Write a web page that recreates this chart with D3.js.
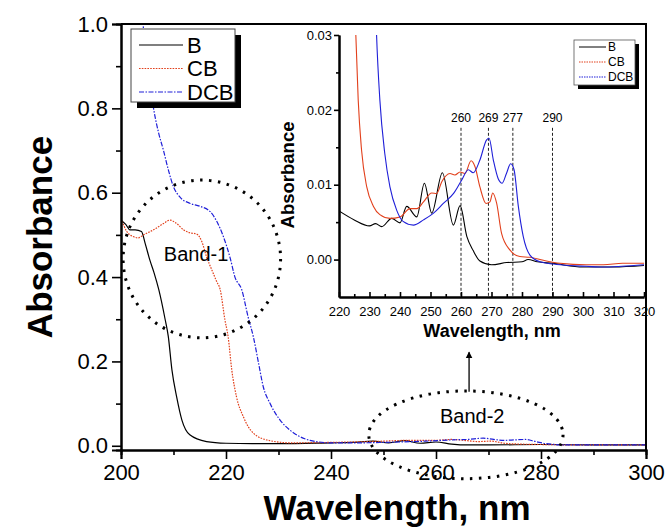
<!DOCTYPE html>
<html>
<head>
<meta charset="utf-8">
<script src="https://cdn.jsdelivr.net/npm/d3@7"></script>
<style>
  body { margin: 0; background: #fff; }
  text { font-family: "Liberation Sans", Arial, sans-serif; }
</style>
</head>
<body>
<script>
// main spectrum, 200-300 nm
const wlB = [200, 200.9, 201.7, 202.7, 203.9, 204.6, 205.5, 206.3, 207.2, 208.4, 209.0, 209.7, 210.6, 211.6, 213.1, 216.3, 220, 225, 230, 240, 244, 248, 251, 254, 257, 260, 263, 266, 270, 280, 290, 300];
const absB = [0.535, 0.525, 0.512, 0.512, 0.508, 0.48, 0.44, 0.41, 0.37, 0.30, 0.26, 0.18, 0.116, 0.061, 0.026, 0.010, 0.006, 0.005, 0.005, 0.007, 0.008, 0.011, 0.007, 0.012, 0.006, 0.009, 0.004, 0.002, 0.002, 0.003, 0.002, 0.002];

const wlCB = [200, 201.1, 202.3, 203.3, 204.3, 206.2, 208.1, 209.3, 210.6, 211.9, 213.1, 214.4, 215.4, 216.3, 217.3, 218.2, 218.9, 219.8, 220.4, 221.1, 222.0, 223.3, 225.2, 228.4, 232.2, 240, 250, 255, 260, 263, 266, 268, 270.5, 273, 276, 280, 290, 300];
const absCB = [0.539, 0.508, 0.496, 0.493, 0.50, 0.512, 0.527, 0.535, 0.527, 0.512, 0.505, 0.502, 0.484, 0.448, 0.417, 0.39, 0.37, 0.298, 0.259, 0.18, 0.116, 0.069, 0.03, 0.012, 0.007, 0.008, 0.011, 0.013, 0.013, 0.015, 0.012, 0.010, 0.011, 0.006, 0.004, 0.003, 0.002, 0.002];

const wlDCB = [203.6, 204.2, 205.2, 206.2, 207.2, 208.1, 209.0, 210.0, 211.2, 213.1, 215.0, 217.0, 218.2, 219.5, 220.8, 221.7, 223.0, 224.2, 225.2, 226.2, 227.1, 228.4, 230.3, 232.2, 234, 236, 240, 245, 250, 258, 263, 266, 269, 271, 273, 275, 277, 279, 281, 285, 290, 300];
const absDCB = [1.1, 1.0, 0.89, 0.80, 0.74, 0.70, 0.655, 0.614, 0.59, 0.575, 0.568, 0.555, 0.533, 0.496, 0.445, 0.40, 0.37, 0.306, 0.259, 0.196, 0.14, 0.10, 0.061, 0.037, 0.022, 0.013, 0.007, 0.007, 0.008, 0.011, 0.014, 0.015, 0.018, 0.015, 0.013, 0.014, 0.015, 0.010, 0.005, 0.002, 0.002, 0.002];

// inset, 220-320 nm
const inWlB = [220, 225, 230, 232, 234, 237.3, 240, 242.2, 245.5, 248, 250.4, 253.9, 257.5, 259.7, 261.9, 264, 266.2, 270, 275, 280, 282, 285, 290, 300, 310, 320];
const inAbsB = [0.0065, 0.0053, 0.0045, 0.0048, 0.0044, 0.0055, 0.0049, 0.0071, 0.0057, 0.0102, 0.0062, 0.0116, 0.0046, 0.0072, 0.0031, 0.0012, -0.0002, -0.0007, -0.0004, -0.0003, 0.0000, -0.0003, -0.0005, -0.001, -0.001, -0.0008];

const inWlCB = [225.2, 225.5, 226.3, 227.4, 229.1, 231.3, 233.4, 236.7, 240, 243.3, 245.5, 247.7, 250.4, 252, 253.7, 256.4, 258, 259.7, 261.3, 263.3, 264.6, 266.2, 268.2, 269.5, 270.4, 271.7, 273.3, 276, 279.3, 282.6, 287, 292.5, 301, 306.7, 313, 320];
const inAbsCB = [0.034, 0.0302, 0.0213, 0.0146, 0.0097, 0.0071, 0.006, 0.0055, 0.0057, 0.0068, 0.0068, 0.0077, 0.0089, 0.0088, 0.0104, 0.0115, 0.0113, 0.0117, 0.0115, 0.0132, 0.0124, 0.0097, 0.0075, 0.0077, 0.0089, 0.0075, 0.0035, 0.0013, 0.0004, 0.0003, -0.0001, -0.0005, -0.0007, -0.0007, -0.0005, -0.0005];

const inWlDCB = [232, 232.3, 233.4, 235, 236.7, 238.9, 241, 244.4, 247.7, 251, 254.2, 257.5, 260.2, 262.4, 264, 266.2, 268.4, 269.2, 270.6, 272.2, 273.5, 274.9, 276.3, 277.4, 278.8, 280.4, 282.6, 285.9, 290.3, 295.7, 301, 306.7, 312.7, 320];
const inAbsDCB = [0.034, 0.0302, 0.0213, 0.0142, 0.0097, 0.0066, 0.0051, 0.0046, 0.0053, 0.0062, 0.0075, 0.0088, 0.0106, 0.012, 0.0116, 0.0133, 0.016, 0.0162, 0.0133, 0.0108, 0.0102, 0.0115, 0.0128, 0.012, 0.0071, 0.0031, 0.0006, -0.0003, -0.0006, -0.0008, -0.0009, -0.001, -0.0009, -0.0007];

const markers = [260, 269, 277, 290];
const seriesNames = ['B', 'CB', 'DCB'];

const mainXTicks = [200, 220, 240, 260, 280, 300];
const mainYTicks = [0.0, 0.2, 0.4, 0.6, 0.8, 1.0];
const insetXTicks = [220, 230, 240, 250, 260, 270, 280, 290, 300, 310, 320];
const insetYTicks = [0.00, 0.01, 0.02, 0.03];

const width = 666;
const height = 528;
const colors = ['#000000', '#e2401c', '#1f1fd8'];
const dashes = [null, '1.6,1.2', '5,1.5,1.5,1.5'];

const svg = d3.select('body').append('svg')
  .attr('width', width)
  .attr('height', height);

svg.append('rect').attr('width', width).attr('height', height).attr('fill', '#fff');

// ---------- main plot ----------
const x = d3.scaleLinear().domain([200, 300]).range([121, 646]);
const y = d3.scaleLinear().domain([-0.01, 1.0]).range([450, 24]);

svg.append('clipPath').attr('id', 'clipMain')
  .append('rect')
  .attr('x', x.range()[0]).attr('y', y.range()[1])
  .attr('width', x.range()[1] - x.range()[0])
  .attr('height', y.range()[0] - y.range()[1]);

const mainSets = [[wlB, absB], [wlCB, absCB], [wlDCB, absDCB]];
const mainLine = d3.line().x(d => x(d[0])).y(d => y(d[1])).curve(d3.curveMonotoneX);

mainSets.forEach((s, i) => {
  svg.append('path')
    .datum(d3.zip(s[0], s[1]))
    .attr('clip-path', 'url(#clipMain)')
    .attr('d', mainLine)
    .attr('fill', 'none')
    .attr('stroke', colors[i])
    .attr('stroke-width', 1.2)
    .attr('stroke-dasharray', dashes[i]);
});

function styleAxis(g, size) {
  g.select('.domain').attr('stroke', '#000').attr('stroke-width', 2);
  g.selectAll('.tick line').attr('stroke', '#000').attr('stroke-width', 1.6);
  g.selectAll('.tick text').attr('font-size', size).attr('fill', '#000')
    .attr('font-family', '"Liberation Sans", Arial, sans-serif');
}

const xMinor = d3.axisBottom(x).tickValues([210, 230, 250, 270, 290]).tickSize(5).tickFormat('');
svg.append('g').attr('transform', `translate(0, ${y.range()[0]})`).call(xMinor).call(g => styleAxis(g, 22));
const xAxis = d3.axisBottom(x).tickValues(mainXTicks).tickSize(9).tickPadding(5).tickFormat(d3.format('d'));
svg.append('g').attr('transform', `translate(0, ${y.range()[0]})`).call(xAxis).call(g => styleAxis(g, 22));

const yMinor = d3.axisLeft(y).tickValues([0.1, 0.3, 0.5, 0.7, 0.9]).tickSize(5).tickFormat('');
svg.append('g').attr('transform', `translate(${x.range()[0]}, 0)`).call(yMinor).call(g => styleAxis(g, 22));
const yAxis = d3.axisLeft(y).tickValues(mainYTicks).tickSize(9).tickPadding(4).tickFormat(d3.format('.1f'));
svg.append('g').attr('transform', `translate(${x.range()[0]}, 0)`).call(yAxis).call(g => styleAxis(g, 22));

// top and right frame
svg.append('path')
  .attr('d', `M${x.range()[0]},${y.range()[1]}H${x.range()[1]}V${y.range()[0]}`)
  .attr('fill', 'none').attr('stroke', '#000').attr('stroke-width', 2);

svg.append('text')
  .text('Wavelength, nm')
  .attr('x', 397).attr('y', 520)
  .attr('text-anchor', 'middle')
  .attr('font-size', 35).attr('font-weight', 'bold');

svg.append('text')
  .text('Absorbance')
  .attr('transform', 'translate(52, 237) rotate(-90)')
  .attr('text-anchor', 'middle')
  .attr('font-size', 35).attr('font-weight', 'bold');

// main legend
const leg = svg.append('g');
leg.append('rect').attr('x', 137).attr('y', 35).attr('width', 104).attr('height', 73).attr('fill', '#000');
leg.append('rect').attr('x', 131).attr('y', 29).attr('width', 104).attr('height', 73)
  .attr('fill', '#fff').attr('stroke', '#444').attr('stroke-width', 1);
seriesNames.forEach((name, i) => {
  const ly = 45 + i * 23.5;
  leg.append('line').attr('x1', 139).attr('x2', 183).attr('y1', ly).attr('y2', ly)
    .attr('stroke', colors[i]).attr('stroke-width', 1.2).attr('stroke-dasharray', dashes[i]);
  leg.append('text').text(name).attr('x', 187).attr('y', ly)
    .attr('dy', '0.36em').attr('font-size', 22);
});

// band annotations
const dotStyle = sel => sel.attr('fill', 'none').attr('stroke', '#000')
  .attr('stroke-width', 3).attr('stroke-dasharray', '2.5,6.5');

svg.append('ellipse')
  .attr('cx', x(215.4)).attr('cy', y(0.443))
  .attr('rx', x(230.4) - x(215.4)).attr('ry', y(0.443) - y(0.63))
  .call(dotStyle);
svg.append('text').text('Band-1')
  .attr('x', x(214.3)).attr('y', y(0.455)).attr('dy', '0.36em')
  .attr('text-anchor', 'middle').attr('font-size', 20);

svg.append('ellipse')
  .attr('cx', x(265.7)).attr('cy', y(0.026))
  .attr('rx', x(284.2) - x(265.7)).attr('ry', y(0.026) - y(0.13))
  .call(dotStyle);
svg.append('text').text('Band-2')
  .attr('x', x(266.9)).attr('y', y(0.071)).attr('dy', '0.36em')
  .attr('text-anchor', 'middle').attr('font-size', 20);

svg.append('defs').append('marker')
  .attr('id', 'arrow').attr('viewBox', '0 0 10 10')
  .attr('refX', 9).attr('refY', 5)
  .attr('markerWidth', 7).attr('markerHeight', 9).attr('markerUnits', 'userSpaceOnUse')
  .attr('orient', 'auto')
  .append('path').attr('d', 'M0,0L10,5L0,10z').attr('fill', '#000');
svg.append('line')
  .attr('x1', x(266.3)).attr('x2', x(266.3))
  .attr('y1', y(0.128)).attr('y2', y(0.222))
  .attr('stroke', '#000').attr('stroke-width', 1.3)
  .attr('marker-end', 'url(#arrow)');

// ---------- inset ----------
const ix = d3.scaleLinear().domain([220, 320]).range([339, 644]);
const iy = d3.scaleLinear().domain([-0.005, 0.03]).range([297, 35]);

svg.append('clipPath').attr('id', 'clipInset')
  .append('rect')
  .attr('x', ix.range()[0]).attr('y', iy.range()[1])
  .attr('width', ix.range()[1] - ix.range()[0])
  .attr('height', iy.range()[0] - iy.range()[1]);

// marker lines
markers.forEach((m) => {
  svg.append('line')
    .attr('x1', ix(m)).attr('x2', ix(m))
    .attr('y1', iy(0.0176)).attr('y2', iy.range()[0])
    .attr('stroke', '#222').attr('stroke-width', 1).attr('stroke-dasharray', '3,2');
  svg.append('text').text(m)
    .attr('x', ix(m)).attr('y', iy(0.0184))
    .attr('text-anchor', 'middle').attr('font-size', 12);
});

const insetSets = [[inWlB, inAbsB], [inWlCB, inAbsCB], [inWlDCB, inAbsDCB]];
const insetLine = d3.line().x(d => ix(d[0])).y(d => iy(d[1])).curve(d3.curveMonotoneX);

insetSets.forEach((s, i) => {
  svg.append('path')
    .datum(d3.zip(s[0], s[1]))
    .attr('clip-path', 'url(#clipInset)')
    .attr('d', insetLine)
    .attr('fill', 'none')
    .attr('stroke', colors[i])
    .attr('stroke-width', 1.1);
});

const ixMinor = d3.axisBottom(ix).tickValues(d3.range(225, 320, 10)).tickSizeInner(-3).tickSizeOuter(0).tickFormat('');
svg.append('g').attr('transform', `translate(0, ${iy.range()[0]})`).call(ixMinor).call(g => styleAxis(g, 13));
const ixAxis = d3.axisBottom(ix).tickValues(insetXTicks).tickSizeInner(-5).tickSizeOuter(0).tickPadding(10).tickFormat(d3.format('d'));
svg.append('g').attr('transform', `translate(0, ${iy.range()[0]})`).call(ixAxis).call(g => styleAxis(g, 13));

const iyMinor = d3.axisLeft(iy).tickValues([0.005, 0.015, 0.025]).tickSize(3).tickSizeOuter(0).tickFormat('');
svg.append('g').attr('transform', `translate(${ix.range()[0]}, 0)`).call(iyMinor).call(g => styleAxis(g, 13));
const iyAxis = d3.axisLeft(iy).tickValues(insetYTicks).tickSize(5).tickSizeOuter(0).tickPadding(2).tickFormat(d3.format('.2f'));
svg.append('g').attr('transform', `translate(${ix.range()[0]}, 0)`).call(iyAxis).call(g => styleAxis(g, 13));

svg.append('text')
  .text('Wavelength, nm')
  .attr('x', 492).attr('y', 337)
  .attr('text-anchor', 'middle')
  .attr('font-size', 18).attr('font-weight', 'bold');

svg.append('text')
  .text('Absorbance')
  .attr('transform', 'translate(294, 175) rotate(-90)')
  .attr('text-anchor', 'middle')
  .attr('font-size', 18.5).attr('font-weight', 'bold');

// inset legend
const ileg = svg.append('g');
ileg.append('rect').attr('x', 578).attr('y', 44).attr('width', 61).attr('height', 45).attr('fill', '#000');
ileg.append('rect').attr('x', 574).attr('y', 40).attr('width', 61).attr('height', 45)
  .attr('fill', '#fff').attr('stroke', '#555').attr('stroke-width', 0.8);
seriesNames.forEach((name, i) => {
  const ly = 47 + i * 15;
  ileg.append('line').attr('x1', 579).attr('x2', 606).attr('y1', ly).attr('y2', ly)
    .attr('stroke', colors[i]).attr('stroke-width', 1).attr('stroke-dasharray', i === 0 ? null : '1.5,1');
  ileg.append('text').text(name).attr('x', 608).attr('y', ly)
    .attr('dy', '0.36em').attr('font-size', 12);
});
</script>
</body>
</html>
